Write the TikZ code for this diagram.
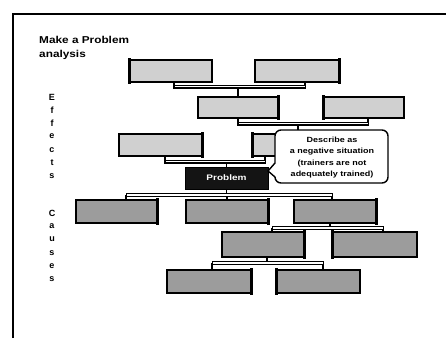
\documentclass[tikz,border=0pt]{standalone}
\usepackage{fontspec}
\setmainfont{Liberation Sans}
\usetikzlibrary{calc}
\definecolor{effgray}{HTML}{D0D0D0}
\definecolor{caugray}{HTML}{9C9C9C}
\begin{document}
\begin{tikzpicture}[x=1pt,y=-1pt,
  box/.style={draw=black, line width=1.1pt, inner sep=0pt},
  ebox/.style={box, fill=effgray},
  cbox/.style={box, fill=caugray},
  thickedge/.style={line width=2.4pt, line cap=rect},
  drop/.style={line width=1.8pt},
  bar/.style={draw=black, fill=white, line width=1pt},
  barbottom/.style={line width=1.8pt},
  lbl/.style={font=\bfseries\fontsize{9}{9}\selectfont, inner sep=0pt},
  callout/.style={draw=black, fill=white, line width=1.4pt}
]
\useasboundingbox (0,0) rectangle (446,338);
% frame
\draw[line width=2.6pt] (13,338) -- (13,14) -- (446,14);

% title
\node[font=\bfseries\fontsize{10}{14}\selectfont, align=left, anchor=north west,
      inner sep=0pt, xscale=1.18, transform shape] (title) at (39,36) {Make a Problem\\analysis};

% side labels
\foreach \ch [count=\i] in {E,f,f,e,c,t,s}
  \node[lbl] (eff\i) at (52,{97+(\i-1)*13.2}) {\ch};
\foreach \ch [count=\i] in {C,a,u,s,e,s}
  \node[lbl] (cau\i) at (52,{213+(\i-1)*13.3}) {\ch};

% effects boxes
\node[ebox, minimum width=82pt, minimum height=22pt] (A) at (171,71) {};
\node[ebox, minimum width=84pt, minimum height=22pt] (B) at (297,71) {};
\node[ebox, minimum width=80pt, minimum height=21pt] (C) at (238,107.5) {};
\node[ebox, minimum width=80pt, minimum height=21pt] (D) at (364,107.5) {};
\node[ebox, minimum width=83pt, minimum height=22pt] (E) at (160.5,145) {};
\node[ebox, minimum width=82pt, minimum height=22pt] (F) at (294,145) {};

% causes boxes
\node[cbox, minimum width=81pt, minimum height=23pt] (G) at (116.5,211.5) {};
\node[cbox, minimum width=82pt, minimum height=23pt] (H) at (227,211.5) {};
\node[cbox, minimum width=82pt, minimum height=23pt] (I) at (335,211.5) {};
\node[cbox, minimum width=82pt, minimum height=25pt] (J) at (263,244.5) {};
\node[cbox, minimum width=84pt, minimum height=25pt] (K) at (375,244.5) {};
\node[cbox, minimum width=84pt, minimum height=23pt] (L) at (209,281.5) {};
\node[cbox, minimum width=83pt, minimum height=23pt] (M) at (318.5,281.5) {};

% thick shadow edges
\foreach \n in {A,D,F,K,M}
  \draw[thickedge] (\n.north west) -- (\n.south west);
\foreach \n in {B,C,E,G,H,I,J,L}
  \draw[thickedge] (\n.north east) -- (\n.south east);

% problem box
\node[draw=black, fill=black!92, line width=1pt, minimum width=83pt, minimum height=22pt,
      inner sep=0pt] (P) at (226.5,178) {};
\node[font=\bfseries\fontsize{8}{8}\selectfont, text=white, xscale=1.25, transform shape]
      (Ptext) at (P.center) {Problem};

% bar levels
\coordinate (b1) at (0,86.5);
\coordinate (b2) at (0,123.5);
\coordinate (b3) at (0,161.5);
\coordinate (b4) at (0,195);
\coordinate (b5) at (0,228);
\coordinate (b6) at (0,263);

% bracket 1: A,B -> C
\draw[drop] ([xshift=3pt]A.south) -- ([xshift=3pt,yshift=-2pt]A.south |- b1);
\draw[drop] ([xshift=8pt]B.south) -- ([xshift=8pt,yshift=-2pt]B.south |- b1);
\draw[drop] (C.north) -- (C.north |- b1);
\draw[bar] ([xshift=3pt,yshift=1.5pt]A.south |- b1) rectangle ([xshift=8pt,yshift=-1.5pt]B.south |- b1);
\draw[barbottom] ([xshift=3pt,yshift=-1.5pt]A.south |- b1) -- ([xshift=8pt,yshift=-1.5pt]B.south |- b1);

% bracket 2: C,D -> F
\draw[drop] (C.south) -- ([yshift=-2pt]C.south |- b2);
\draw[drop] ([xshift=4pt]D.south) -- ([xshift=4pt,yshift=-2pt]D.south |- b2);
\draw[drop] ([xshift=4pt]F.north) -- ([xshift=4pt]F.north |- b2);
\draw[bar] ([yshift=1.5pt]C.south |- b2) rectangle ([xshift=4pt,yshift=-1.5pt]D.south |- b2);
\draw[barbottom] ([yshift=-1.5pt]C.south |- b2) -- ([xshift=4pt,yshift=-1.5pt]D.south |- b2);

% bracket 3: E,F -> Problem
\draw[drop] ([xshift=4.5pt]E.south) -- ([xshift=4.5pt,yshift=-2pt]E.south |- b3);
\draw[drop] ([xshift=-29pt]F.south) -- ([xshift=-29pt,yshift=-2pt]F.south |- b3);
\draw[bar] ([xshift=4.5pt,yshift=1.5pt]E.south |- b3) rectangle ([xshift=-29pt,yshift=-1.5pt]F.south |- b3);
\draw[barbottom] ([xshift=4.5pt,yshift=-1.5pt]E.south |- b3) -- ([xshift=-29pt,yshift=-1.5pt]F.south |- b3);
\draw[drop] (P.north) -- (P.north |- b3);

% callout
\draw[callout] (275,163) [rounded corners=6pt] -- (275,130) -- (388,130) -- (388,183) -- (275,183)
   [sharp corners] -- (275,177) -- (268,171) -- cycle;
\node[font=\bfseries\fontsize{7.5}{11.6}\selectfont, align=center, xscale=1.2, transform shape,
      inner sep=0pt] (desc) at (332,157.5)
  {Describe as\\a negative situation\\(trainers are not\\adequately trained)};

% bracket 4: Problem -> G,H,I
\draw[drop] ([xshift=9.5pt]G.north) -- ([xshift=9.5pt]G.north |- b4);
\draw[drop] (H.north) -- (H.north |- b4);
\draw[drop] ([xshift=-3pt]I.north) -- ([xshift=-3pt]I.north |- b4);
\draw[drop] (P.south) -- ([yshift=-1.5pt]P.south |- b4);
\draw[bar] ([xshift=9.5pt,yshift=1.5pt]G.north |- b4) rectangle ([xshift=-3pt,yshift=-1.5pt]I.north |- b4);
\draw[barbottom] ([xshift=9.5pt,yshift=-1.5pt]G.north |- b4) -- ([xshift=-3pt,yshift=-1.5pt]I.north |- b4);

% bracket 5: I -> J,K
\draw[drop] ([xshift=-5pt]I.south) -- ([xshift=-5pt]I.south |- b5);
\draw[drop] ([xshift=9pt]J.north) -- ([xshift=9pt]J.north |- b5);
\draw[drop] ([xshift=8pt]K.north) -- ([xshift=8pt]K.north |- b5);
\draw[bar] ([xshift=9pt,yshift=1.5pt]J.north |- b5) rectangle ([xshift=8pt,yshift=-1.5pt]K.north |- b5);
\draw[barbottom] ([xshift=9pt,yshift=-1.5pt]J.north |- b5) -- ([xshift=8pt,yshift=-1.5pt]K.north |- b5);

% bracket 6: J -> L,M
\draw[drop] ([xshift=4pt]J.south) -- ([xshift=4pt]J.south |- b6);
\draw[drop] ([xshift=3pt]L.north) -- ([xshift=3pt]L.north |- b6);
\draw[drop] ([xshift=4.5pt]M.north) -- ([xshift=4.5pt]M.north |- b6);
\draw[bar] ([xshift=3pt,yshift=1.5pt]L.north |- b6) rectangle ([xshift=4.5pt,yshift=-1.5pt]M.north |- b6);
\draw[barbottom] ([xshift=3pt,yshift=-1.5pt]L.north |- b6) -- ([xshift=4.5pt,yshift=-1.5pt]M.north |- b6);
\end{tikzpicture}
\end{document}
